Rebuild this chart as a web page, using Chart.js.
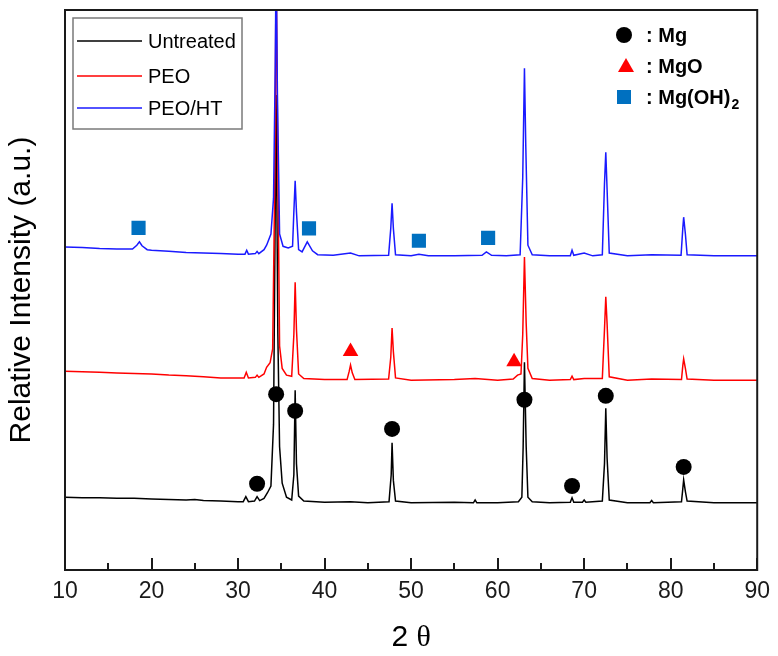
<!DOCTYPE html>
<html>
<head>
<meta charset="utf-8">
<script src="https://cdn.jsdelivr.net/npm/chart.js@4.4.1/dist/chart.umd.min.js"></script>
<style>
  html, body { margin: 0; padding: 0; background: #fff; }
  #xrd { display: block; }
</style>
</head>
<body>
<canvas id="xrd" width="778" height="656"></canvas>
<script>
// 2-theta (deg) vs intensity (a.u.), traces already offset like in the figure
const untreated = [
  [10,130],[12,129],[14,129],[16,128],[18,128],[20,127],[22,126],[24,125],[25,126],[26,124],[28,123],[30,122],
  [30.6,122],[30.9,131],[31.2,122],[31.9,123],[32.2,131],[32.5,124],[33.0,128],[33.4,138],[33.8,150],
  [34.1,260],[34.4,848],[34.6,420],[34.8,220],[35.1,155],[35.6,130],[36.2,125],[36.45,170],[36.6,321],
  [36.75,190],[37.0,132],[37.6,123],[40,121],[43,122],[45,120],[47.45,122],[47.7,170],[47.8,227],
  [47.95,160],[48.2,123],[50,120],[55,121],[57.2,120],[57.4,125],[57.6,120],[60,120],[62.4,122],
  [62.8,130],[62.95,220],[63.1,371],[63.3,220],[63.5,130],[64,122],[66,120],[68.4,121],[68.6,129],
  [68.8,121],[69.8,121],[70.0,125],[70.2,121],[72.1,123],[72.35,190],[72.5,289],[72.65,200],[72.9,125],
  [75,120],[77.6,120],[77.8,124],[78,120],[81.25,122],[81.4,145],[81.5,161],[81.7,140],[81.9,123],
  [85,120],[90,120]
];
const peo = [
  [10,355],[12,354],[14,353],[16,352],[18,351],[20,350],[22,348],[24,347],[26,345],[28,343],[30,343],
  [30.7,343],[30.95,353],[31.2,343],[32.0,344],[32.2,348],[32.4,344],[33.0,350],[33.3,362],[33.7,370],
  [34.0,395],[34.25,700],[34.4,1100],[34.55,800],[34.8,400],[35.1,360],[35.6,348],[36.2,346],[36.45,420],
  [36.6,514],[36.75,430],[37.0,350],[37.6,342],[40,340],[42.6,340],[42.85,355],[43.0,366],[43.2,352],
  [43.5,340],[47.4,341],[47.65,380],[47.8,432],[47.95,390],[48.2,343],[50,339],[55,340],[57.4,342],
  [60,339],[61.8,341],[62.3,348],[62.7,350],[62.9,420],[63.1,559],[63.3,440],[63.5,360],[64,342],
  [66,339],[68.4,340],[68.6,346],[68.8,340],[70,342],[72.1,342],[72.35,430],[72.5,488],[72.65,440],
  [72.9,345],[75,339],[77.8,341],[81.25,340],[81.4,365],[81.5,377],[81.7,360],[81.9,341],[85,339],[90,339]
];
const peoHt = [
  [10,577],[12,576],[14,574],[16,573],[17.8,573],[18.3,580],[18.6,586],[18.9,579],[19.5,572],[20,571],
  [22,569],[24,567],[26,566],[28,565],[30,564],[30.8,564],[31.0,571],[31.2,564],[32.0,565],[32.2,569],
  [32.4,565],[33.0,572],[33.3,580],[33.8,600],[34.1,664],[34.3,900],[34.4,1100],[34.55,850],[34.8,600],
  [35.2,578],[35.8,575],[36.3,578],[36.45,640],[36.6,695],[36.75,640],[37.0,572],[37.4,568],[38.0,586],
  [38.6,570],[39.2,563],[41,562],[43.0,566],[44,561],[47.4,562],[47.65,610],[47.8,655],[47.95,610],
  [48.2,563],[50,561],[50.9,564],[52,561],[55,561],[58.2,562],[58.7,568],[59.3,562],[61,561],[62.6,563],
  [62.9,700],[63.1,896],[63.25,760],[63.5,580],[64,563],[66,561],[68.4,561],[68.6,571],[68.8,562],
  [70.0,566],[71,561],[72.1,563],[72.35,690],[72.5,746],[72.65,680],[72.9,566],[75,561],[77.8,563],
  [81.2,562],[81.4,610],[81.5,630],[81.7,600],[81.9,563],[85,561],[90,561]
];

// phase markers placed above the peaks
const mgPeaks = [[32.2,154],[34.4,314],[36.6,284],[47.8,252],[63.1,304],[68.6,150],[72.5,311],[81.5,184]];
const mgoPeaks = [[43.0,390],[61.9,372]];
const mgoh2Peaks = [[18.5,611],[38.2,610],[50.9,588],[58.9,593]];

const seriesNames = ['Untreated', 'PEO', 'PEO/HT'];
const seriesColors = ['#000000', '#ff0000', '#1a1aff'];
const phaseLabels = [': Mg', ': MgO', ': Mg(OH)_2'];
const phaseColors = ['#000000', '#ff0000', '#0070c0'];

const xMajor = [10, 20, 30, 40, 50, 60, 70, 80, 90];
const xMinor = [15, 25, 35, 45, 55, 65, 75, 85];

const framePlugin = {
  id: 'frame',
  afterDraw(chart) {
    const { ctx, chartArea: a, scales: { x } } = chart;
    ctx.save();

    // box + inward ticks
    ctx.strokeStyle = '#1a1a1a';
    ctx.lineWidth = 2;
    ctx.strokeRect(a.left, a.top, a.right - a.left, a.bottom - a.top);
    ctx.beginPath();
    xMajor.forEach(v => {
      const px = Math.round(x.getPixelForValue(v));
      ctx.moveTo(px, a.bottom); ctx.lineTo(px, a.bottom - 12);
    });
    xMinor.forEach(v => {
      const px = Math.round(x.getPixelForValue(v));
      ctx.moveTo(px, a.bottom); ctx.lineTo(px, a.bottom - 7);
    });
    ctx.stroke();

    // x title: "2" sans, theta serif
    ctx.fillStyle = '#000';
    ctx.textBaseline = 'middle';
    const cx = (a.left + a.right) / 2;
    ctx.font = '30px "Liberation Sans", Arial, sans-serif';
    const w2 = ctx.measureText('2 ').width;
    ctx.font = '30px "Liberation Serif", "Times New Roman", serif';
    const wt = ctx.measureText('\u03b8').width;
    let tx = cx - (w2 + wt) / 2;
    ctx.textAlign = 'left';
    ctx.font = '30px "Liberation Sans", Arial, sans-serif';
    ctx.fillText('2 ', tx, 638);
    ctx.font = '30px "Liberation Serif", "Times New Roman", serif';
    ctx.fillText('\u03b8', tx + w2, 638);

    // series legend box
    ctx.strokeStyle = '#7a7a7a';
    ctx.lineWidth = 1.5;
    ctx.strokeRect(73, 18, 169, 111);
    ctx.font = '20px "Liberation Sans", Arial, sans-serif';
    const rows = [41, 76, 108];
    seriesNames.forEach((name, i) => {
      ctx.strokeStyle = seriesColors[i];
      ctx.lineWidth = 1.5;
      ctx.beginPath();
      ctx.moveTo(77, rows[i]); ctx.lineTo(142, rows[i]);
      ctx.stroke();
      ctx.fillStyle = '#000';
      ctx.fillText(name, 148, rows[i] + 1);
    });

    // phase legend
    const prow = [35, 66, 97];
    phaseColors.forEach((c, i) => {
      ctx.fillStyle = c;
      ctx.beginPath();
      if (i === 0) {
        ctx.arc(624, prow[i], 8, 0, Math.PI * 2);
      } else if (i === 1) {
        ctx.moveTo(626, prow[i] - 8); ctx.lineTo(634, prow[i] + 6); ctx.lineTo(618, prow[i] + 6); ctx.closePath();
      } else {
        ctx.rect(617, prow[i] - 7, 14, 14);
      }
      ctx.fill();
      const parts = phaseLabels[i].split('_');
      ctx.fillStyle = '#000';
      ctx.font = 'bold 20px "Liberation Sans", Arial, sans-serif';
      ctx.fillText(parts[0], 646, prow[i] + 1);
      if (parts[1]) {
        const w = ctx.measureText(parts[0]).width;
        ctx.font = 'bold 14px "Liberation Sans", Arial, sans-serif';
        ctx.fillText(parts[1], 646 + w + 1, prow[i] + 8);
      }
    });
    ctx.restore();
  }
};

const lineDs = (data, i, order) => ({
  label: seriesNames[i],
  data: data,
  borderColor: seriesColors[i],
  borderWidth: 1.5,
  pointRadius: 0,
  tension: 0,
  order: order
});

const markDs = (data, style, radius, color) => ({
  type: 'scatter',
  data: data,
  pointStyle: style,
  pointRadius: radius,
  backgroundColor: color,
  borderColor: color,
  borderWidth: 0,
  order: 0
});

new Chart(document.getElementById('xrd'), {
  type: 'line',
  data: {
    datasets: [
      markDs(mgPeaks, 'circle', 8, phaseColors[0]),
      markDs(mgoPeaks, 'triangle', 9, phaseColors[1]),
      markDs(mgoh2Peaks, 'rect', 10, phaseColors[2]),
      lineDs(peoHt, 2, 1),
      lineDs(peo, 1, 2),
      lineDs(untreated, 0, 3)
    ]
  },
  options: {
    responsive: false,
    animation: false,
    layout: { padding: { top: 10, right: 19, left: 0, bottom: 0 } },
    plugins: { legend: { display: false }, tooltip: { enabled: false } },
    scales: {
      x: {
        type: 'linear',
        min: 10,
        max: 90,
        afterBuildTicks: s => { s.ticks = xMajor.map(v => ({ value: v })); },
        afterFit: s => { s.height = 86; },
        grid: { display: false, drawTicks: false },
        border: { display: false },
        ticks: {
          padding: 8,
          color: '#1a1a1a',
          maxRotation: 0,
          font: { family: '"Liberation Sans", Arial, sans-serif', size: 23 }
        }
      },
      y: {
        min: 0,
        max: 1000,
        afterFit: s => { s.width = 65; },
        grid: { display: false, drawTicks: false },
        border: { display: false },
        ticks: { display: false },
        title: {
          display: true,
          text: 'Relative Intensity (a.u.)',
          color: '#000',
          padding: { top: 4, bottom: 0 },
          font: { family: '"Liberation Sans", Arial, sans-serif', size: 30 }
        }
      }
    }
  },
  plugins: [framePlugin]
});
</script>
</body>
</html>
